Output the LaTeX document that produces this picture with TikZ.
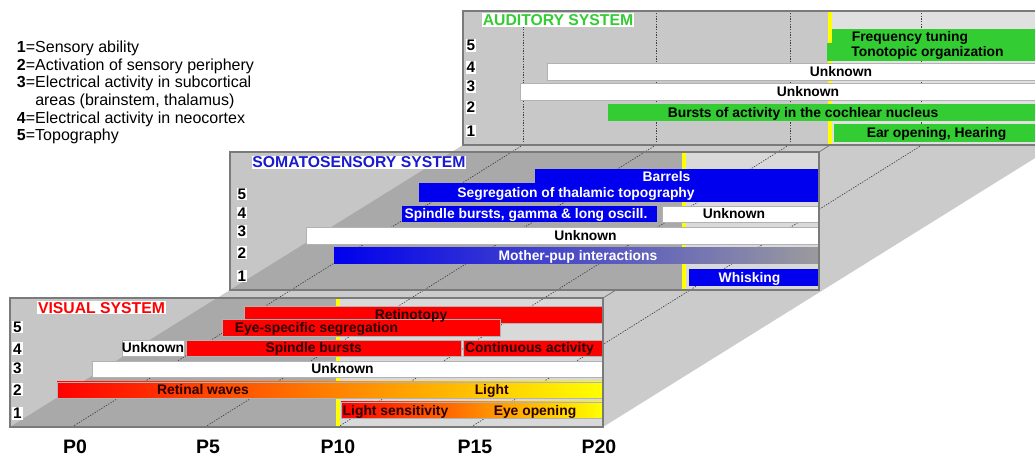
\documentclass[tikz,border=0pt]{standalone}
\usepackage{fontspec}
\setmainfont{Liberation Sans}
\definecolor{floorgray}{HTML}{CBCBCB}
\definecolor{panlight}{HTML}{C6C6C6}
\definecolor{pandark}{HTML}{A9A9A9}
\definecolor{panright}{HTML}{D9D9D9}
\definecolor{audleft}{HTML}{C8C8C8}
\definecolor{audright}{HTML}{E0E0E0}
\definecolor{panborder}{HTML}{7A7A7A}
\definecolor{vred}{HTML}{FF0000}
\definecolor{sblue}{HTML}{0000EE}
\definecolor{tblue}{HTML}{1A1AD0}
\definecolor{agreen}{HTML}{33CC33}
\definecolor{ylw}{HTML}{FFFF00}
\definecolor{vtext}{HTML}{280000}
\definecolor{rwmid}{RGB}{255,26,0}
\definecolor{lsmid}{RGB}{255,112,0}
\definecolor{mpmid}{RGB}{60,60,200}
\definecolor{mpright}{RGB}{155,155,158}
\tikzset{
 floorline/.style={draw=black!75, line width=0.5pt, dash pattern=on 1pt off 1pt},
 panelborder/.style={draw=panborder, line width=1.5pt},
 yline/.style={draw=ylw, line width=2.4pt},
 barbox/.style={draw=black!30, line width=0.3pt},
 btxt/.style={font=\fontsize{10.4}{12}\selectfont\bfseries, inner sep=0pt, text height=7.4pt, text depth=0pt},
 vtxt/.style={btxt, text=vtext},
 stxt/.style={btxt, text=white},
 atxt/.style={btxt, text=black},
 rowlab/.style={font=\fontsize{11.5}{12}\selectfont\bfseries, fill=white, inner sep=0.7pt, text height=8.2pt, text depth=0pt},
 systitle/.style={font=\fontsize{11.8}{13}\selectfont\bfseries, fill=white, inner xsep=0.6pt, inner ysep=0.8pt, text height=8.5pt, text depth=0pt},
 plab/.style={font=\fontsize{14.6}{16}\selectfont\bfseries, inner sep=0pt, anchor=base},
 legtxt/.style={font=\fontsize{12}{13}\selectfont, inner sep=0pt, anchor=base west},
}
\begin{document}
\begin{tikzpicture}[x=0.75pt,y=-0.75pt]
\clip (0,0) rectangle (1035,459);
\fill[white] (0,0) rectangle (1035,459);

% floor of the prism
\fill[floorgray] (10,427) -- (603,427) -- (1056,145) -- (463,145) -- cycle;

% auditory panel background
\fill[audleft] (463,11) rectangle (830,145);
\fill[audright] (830,11) rectangle (1070,145);

% somatosensory panel background
\fill[panlight] (230,152) rectangle (819,290);
\fill[pandark] (230,290) -- (452,152) -- (684,152) -- (684,290) -- cycle;
\fill[panright] (684,152) rectangle (819,290);

% visual panel background
\fill[panlight] (10,298) rectangle (603,427);
\fill[pandark] (10,427) -- (217,298) -- (338,298) -- (338,427) -- cycle;
\fill[panright] (338,298) rectangle (603,427);

% floor grid lines and back wall grid lines
\foreach \x in {72,205,338,471} \draw[floorline] (\x,427) -- ++(451,-282);
\foreach \x in {523,656,790,921} \draw[floorline] (\x,145) -- (\x,11);

% yellow onset lines
\draw[yline] (338,298) -- (338,427);
\draw[yline] (684,152) -- (684,290);
\draw[yline] (830,11) -- (830,145);

% ---------------- AUDITORY ----------------
\path[barbox, fill=agreen, draw=none] (832,29) rectangle (1070,44);
\path[barbox, fill=agreen, draw=none] (827,43) rectangle (1070,61);
\path[barbox, fill=white] (547,63) rectangle (1070,80);
\path[barbox, fill=white] (520,83) rectangle (1070,100);
\path[barbox, fill=agreen, draw=none] (608,104) rectangle (1070,121);
\path[barbox, fill=agreen, draw=none] (834,124) rectangle (1070,142);
\node[atxt] (afreq) at (910,36.5) {Frequency tuning};
\node[atxt] (atono) at (927.5,52) {Tonotopic organization};
\node[atxt] (aunk4) at (841,71.5) {Unknown};
\node[atxt] (aunk3) at (808,91.5) {Unknown};
\node[atxt] (aburst) at (803,112.5) {Bursts of activity in the cochlear nucleus};
\node[atxt] (aear) at (936.5,133) {Ear opening, Hearing};
\node[systitle, text=agreen] (atitle) at (558,20) {AUDITORY SYSTEM};
\node[rowlab] (ar5) at (471,45.5) {5};
\node[rowlab] (ar4) at (471,67.5) {4};
\node[rowlab] (ar3) at (471,86.3) {3};
\node[rowlab] (ar2) at (471,107.5) {2};
\node[rowlab] (ar1) at (471,131) {1};
\draw[panelborder] (1070,11) -- (463,11) -- (463,145) -- (1070,145);

% ---------------- SOMATOSENSORY ----------------
\path[fill=sblue] (535,169) rectangle (818,186);
\path[fill=sblue] (419,183) rectangle (818,202);
\path[fill=sblue] (402,206) rectangle (657,222);
\path[barbox, fill=white] (662,206) rectangle (818,222);
\path[barbox, fill=white] (306,227) rectangle (818,244);
\path[left color=sblue, middle color=mpmid, right color=mpright] (334,248) rectangle (818,264);
\path[fill=sblue] (689,269) rectangle (818,286);
\node[stxt] (sbarrel) at (666.5,177) {Barrels};
\node[stxt] (sseg) at (576,193) {Segregation of thalamic topography};
\node[stxt] (sspin) at (526,214) {Spindle bursts, gamma \& long oscill.};
\node[atxt] (sunk4) at (734,214) {Unknown};
\node[atxt] (sunk3) at (585.5,235.5) {Unknown};
\node[stxt] (smother) at (578,256) {Mother-pup interactions};
\node[stxt] (swhisk) at (749.5,277.5) {Whisking};
\node[systitle, text=tblue] (stitle) at (359,162.3) {SOMATOSENSORY SYSTEM};
\node[rowlab] (sr5) at (242,194) {5};
\node[rowlab] (sr4) at (242,213) {4};
\node[rowlab] (sr3) at (242,231.3) {3};
\node[rowlab] (sr2) at (242,252.8) {2};
\node[rowlab] (sr1) at (242,276) {1};
\draw[panelborder] (230,152) rectangle (819,290);
\draw[draw=panborder, line width=0.6pt] (819,152) -- (830,145);

% ---------------- VISUAL ----------------
\path[barbox, fill=vred] (244,306) rectangle (602,323);
\path[barbox, fill=vred] (222,319) rectangle (500,336);
\path[barbox, fill=white] (122,340) rectangle (184,356);
\path[barbox, fill=vred] (186,340) rectangle (461,356);
\path[barbox, fill=vred] (463,340) rectangle (602,356);
\path[barbox, fill=white] (92,361) rectangle (602,377);
\path[barbox, left color=vred, middle color=rwmid, right color=ylw] (57,382) rectangle (602,398);
\path[barbox, left color=vred, middle color=lsmid, right color=ylw] (341,402) rectangle (602,418);
\node[vtxt] (vretino) at (411,314.5) {Retinotopy};
\node[vtxt] (veye) at (316.5,327.5) {Eye-specific segregation};
\node[atxt] (vunk4) at (153,348) {Unknown};
\node[vtxt] (vspin) at (313.7,348) {Spindle bursts};
\node[vtxt] (vcont) at (529.5,348) {Continuous activity};
\node[atxt] (vunk3) at (342.5,369) {Unknown};
\node[vtxt] (vretw) at (203,390) {Retinal waves};
\node[vtxt] (vlight) at (491.7,390) {Light};
\node[vtxt] (vlsens) at (395.5,410.5) {Light sensitivity};
\node[vtxt] (veyeop) at (535,410.5) {Eye opening};
\node[systitle, text=vred] (vtitle) at (101.5,307.7) {VISUAL SYSTEM};
\node[rowlab] (vr5) at (17.5,327) {5};
\node[rowlab] (vr4) at (17.5,348.7) {4};
\node[rowlab] (vr3) at (17.5,368) {3};
\node[rowlab] (vr2) at (17.5,389.7) {2};
\node[rowlab] (vr1) at (17.5,413.3) {1};
\draw[panelborder] (10,298) rectangle (603,427);
\draw[draw=panborder, line width=0.6pt] (603,298) -- (616,290);

% ---------------- time axis ----------------
\node[plab] (p0) at (75,453) {P0};
\node[plab] (p5) at (208,453) {P5};
\node[plab] (p10) at (338,453) {P10};
\node[plab] (p15) at (475,453) {P15};
\node[plab] (p20) at (599,453) {P20};

% ---------------- legend ----------------
\node[legtxt] (leg1) at (16.7,52.5) {\textbf{1}=Sensory ability};
\node[legtxt] (leg2) at (16.7,70.2) {\textbf{2}=Activation of sensory periphery};
\node[legtxt] (leg3) at (16.7,87.9) {\textbf{3}=Electrical activity in subcortical};
\node[legtxt] (leg3b) at (35,105.6) {areas (brainstem, thalamus)};
\node[legtxt] (leg4) at (16.7,123.3) {\textbf{4}=Electrical activity in neocortex};
\node[legtxt] (leg5) at (16.7,141) {\textbf{5}=Topography};
\end{tikzpicture}
\end{document}
